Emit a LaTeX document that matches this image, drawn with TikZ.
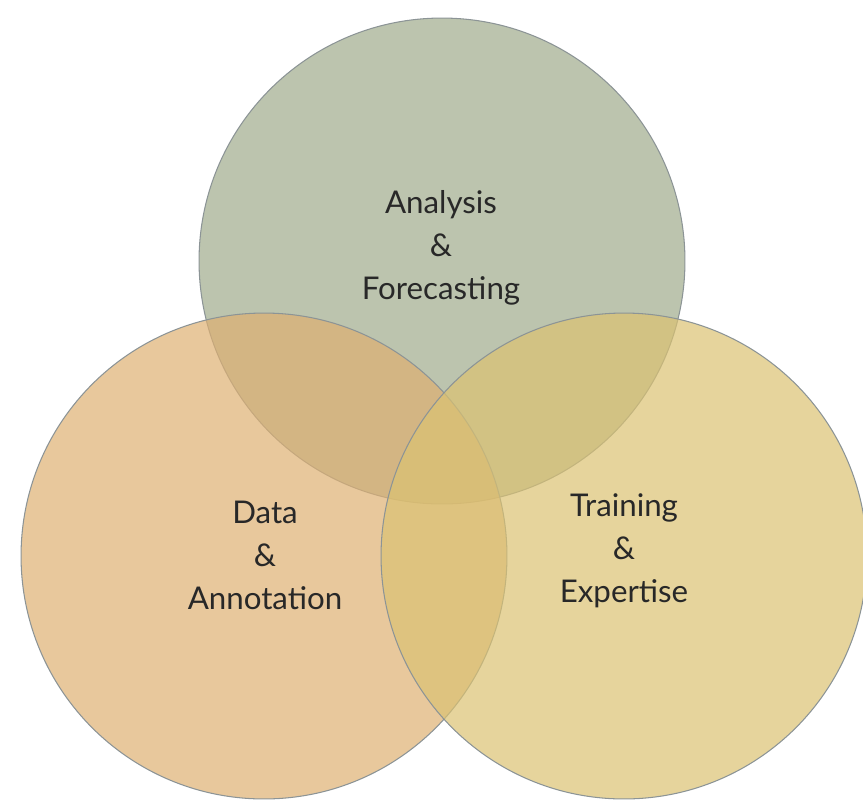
\documentclass[tikz,border=0pt]{standalone}
\usepackage{fontspec}
\setmainfont{Lato}
\usepackage{tikz}
\usetikzlibrary{positioning}
\definecolor{topfill}{RGB}{159,171,139}
\definecolor{leftfill}{RGB}{222,176,114}
\definecolor{rightfill}{RGB}{219,194,114}
\definecolor{rim}{RGB}{140,148,150}
\definecolor{ink}{RGB}{40,40,40}
\tikzstyle{area} = [circle, draw=rim, line width=0.6pt, fill opacity=0.7,
   inner sep=0pt, outer sep=0pt, minimum size=9.72cm]
\tikzstyle{caption} = [align=center, text=ink, font=\fontsize{17.8}{24.5}\selectfont]

\begin{document}
\begin{tikzpicture}[x=0.02cm, y=-0.02cm]
  \useasboundingbox (0,0) rectangle (863,799);
  			% the three sets, the top one first so the others lie over it
  			\node[area, fill=topfill] (a) at (442,261) {};
  			\node[area, fill=leftfill] (b) at (264,556) {};
  			\node[area, fill=rightfill] (c) at (624,556) {};

  			% their names
  			\node[caption] (at) at (441,248) {Analysis\\\&\\Forecasting};
  			\node[caption] (bt) at (265,555) {Data\\\&\\Annotation};
  			\node[caption] (ct) at (624,551) {Training\\\&\\Expertise};
\end{tikzpicture}
\end{document}
